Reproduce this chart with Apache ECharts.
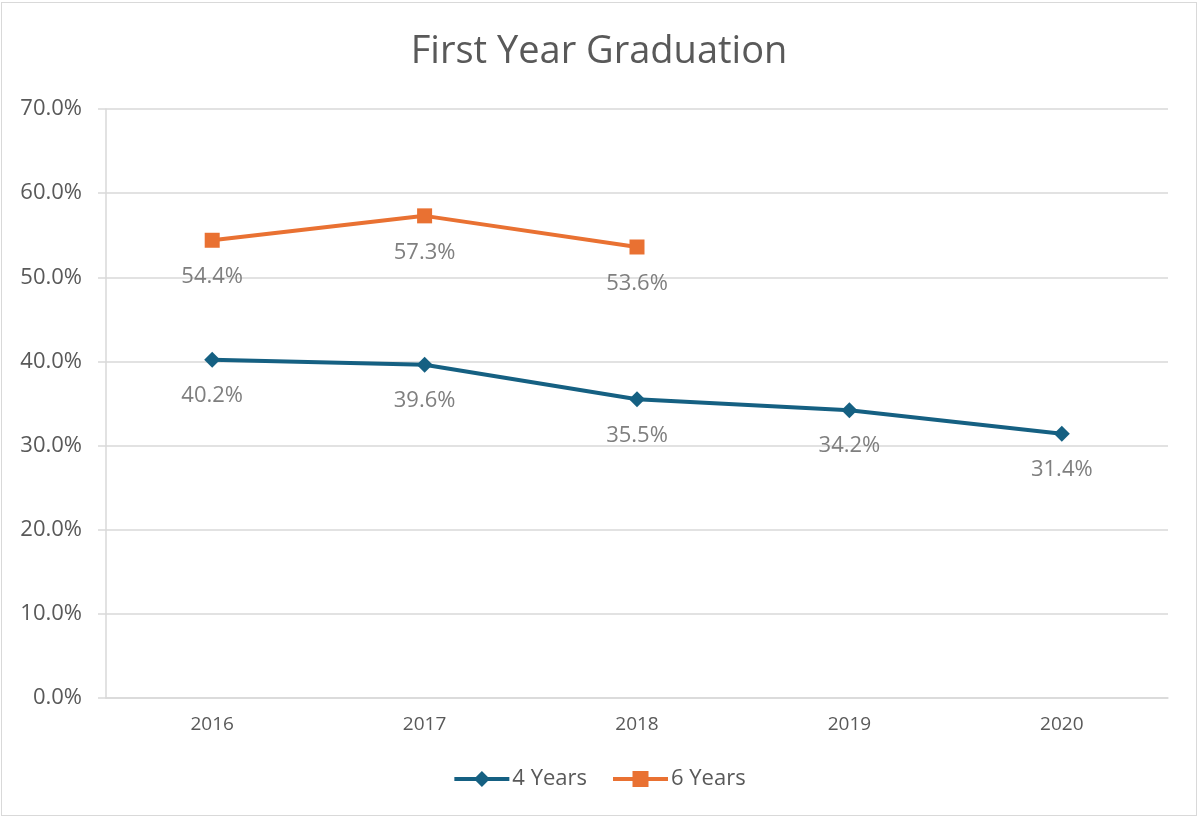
<!DOCTYPE html>
<html>
<head>
<meta charset="utf-8">
<title>First Year Graduation</title>
<script src="https://cdn.jsdelivr.net/npm/echarts@6/dist/echarts.min.js"></script>
<style>
  html, body { margin: 0; padding: 0; background: #fff; }
  #frame {
    position: absolute; left: 1px; top: 2px;
    width: 1194px; height: 812px;
    border: 1px solid #d9d9d9;
  }
  #chart { position: absolute; left: 0; top: 0; width: 1198px; height: 817px; }
</style>
</head>
<body>
<div id="frame"></div>
<div id="chart"></div>
<script>
const years = ['2016', '2017', '2018', '2019', '2020']
const fourYears = [40.2, 39.6, 35.5, 34.2, 31.4]
const sixYears = [54.4, 57.3, 53.6, null, null]
const yTicks = { min: 0, max: 70, interval: 10 }

const font = '"Open Sans", "DejaVu Sans", sans-serif'
const gridColor = '#d9d9d9'
const textColor = '#595959'

const chart = echarts.init(document.getElementById('chart'))

chart.setOption({
  animation: false,
  textStyle: { fontFamily: font },
  title: {
    text: 'First Year Graduation',
    left: 'center',
    top: 28,
    textStyle: { color: textColor, fontSize: 38, fontWeight: 'normal', fontFamily: font }
  },
  grid: {
    left: 106,
    right: 30,
    top: 109,
    bottom: 119,
    containLabel: false
  },
  legend: {
    bottom: 22,
    left: 'center',
    itemWidth: 55,
    itemHeight: 20,
    itemGap: 24,
    lineStyle: { width: 4 },
    textStyle: { color: textColor, fontSize: 22, fontFamily: font, padding: [0, 0, 0, -2] },
    data: ['4 Years', '6 Years']
  },
  xAxis: {
    type: 'category',
    data: years,
    boundaryGap: true,
    axisLine: { lineStyle: { color: gridColor, width: 1.5 } },
    axisTick: { show: false },
    axisLabel: { color: textColor, fontSize: 19, margin: 17, fontFamily: font }
  },
  yAxis: {
    type: 'value',
    min: yTicks.min,
    max: yTicks.max,
    interval: yTicks.interval,
    axisLine: { show: true, lineStyle: { color: gridColor, width: 1.5 } },
    axisTick: { show: true, length: 8, lineStyle: { color: gridColor, width: 1.5 } },
    splitLine: { lineStyle: { color: gridColor, width: 1.5 } },
    axisLabel: {
      color: textColor,
      fontSize: 22,
      margin: 24,
      fontFamily: font,
      formatter: v => v.toFixed(1) + '%'
    }
  },
  series: [
    {
      name: '4 Years',
      type: 'line',
      data: fourYears,
      symbol: 'diamond',
      symbolSize: 16,
      lineStyle: { color: '#156082', width: 4 },
      itemStyle: { color: '#156082' },
      label: {
        show: true,
        position: 'bottom',
        distance: 17,
        color: '#7f7f7f',
        fontSize: 22,
        fontFamily: font,
        formatter: p => p.value.toFixed(1) + '%'
      }
    },
    {
      name: '6 Years',
      type: 'line',
      data: sixYears,
      symbol: 'rect',
      symbolSize: 15,
      connectNulls: false,
      lineStyle: { color: '#E97132', width: 4 },
      itemStyle: { color: '#E97132' },
      label: {
        show: true,
        position: 'bottom',
        distance: 18,
        color: '#7f7f7f',
        fontSize: 22,
        fontFamily: font,
        formatter: p => p.value == null ? '' : p.value.toFixed(1) + '%'
      }
    }
  ]
})
</script>
</body>
</html>
